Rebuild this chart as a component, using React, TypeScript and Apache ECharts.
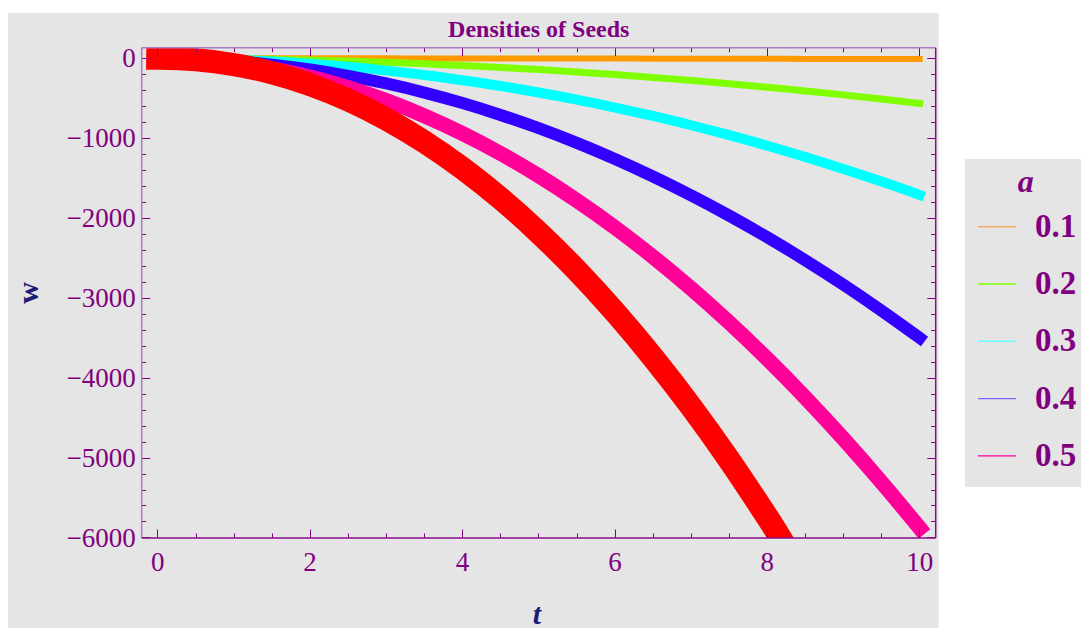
import React, { useEffect, useRef } from 'react';
import * as echarts from 'echarts';

// ---------- data ----------
const tValues = [0, 0.5, 1, 1.5, 2, 2.5, 3, 3.5, 4, 4.5, 5, 5.5, 6, 6.5, 7, 7.5, 8, 8.5, 9, 9.5, 10];
const w01 = [0, 0, -0.1, -0.2, -0.4, -0.6, -0.9, -1.2, -1.6, -2, -2.5, -3, -3.6, -4.2, -4.9, -5.6, -6.4, -7.2, -8.1, -9, -10];
const w02 = [0, -1.4, -5.7, -12.7, -22.6, -35.3, -50.9, -69.2, -90.4, -114, -141, -171, -203, -239, -277, -318, -362, -408, -458, -510, -565];
const w03 = [0, -4.3, -17.1, -38.5, -68.4, -107, -154, -209, -274, -346, -428, -517, -616, -722, -838, -962, -1094, -1235, -1385, -1543, -1710];
const w04 = [0, -8.8, -35, -79, -140, -219, -315, -429, -560, -709, -875, -1059, -1260, -1479, -1715, -1969, -2240, -2529, -2835, -3159, -3500];
const w05 = [0, -14.7, -58.8, -132, -235, -368, -529, -720, -941, -1191, -1470, -1779, -2117, -2484, -2881, -3308, -3763, -4248, -4763, -5307, -5880];
const tRed = [0, 0.5, 1, 1.5, 2, 2.5, 3, 3.5, 4, 4.5, 5, 5.5, 6, 6.5, 7, 7.5, 8, 8.17];
const wRed = [0, -19, -79, -183, -330, -523, -761, -1046, -1377, -1755, -2181, -2654, -3175, -3744, -4361, -5027, -5743, -6000];

const legendLabels = ['0.1', '0.2', '0.3', '0.4', '0.5'];
const legendTitle = 'a';
const chartTitle = 'Densities of Seeds';
const xName = 't';
const yName = 'w';
const xTickValues = [0, 2, 4, 6, 8, 10];
const yTickValues = [-6000, -5000, -4000, -3000, -2000, -1000, 0];
const xMinorPerMajor = 4;
const yMinorPerMajor = 5;

// ---------- styles / layout ----------
const FONT = '"Liberation Serif", "Times New Roman", serif';
const PURPLE = '#800080';
const NAVY = '#1b1b78';
const BG = '#e5e5e5';

const lineColors = ['#ff9900', '#80ff00', '#00ffff', '#3300ff', '#ff0099', '#ff0000'];
const legendLineColors = ['#f3b062', '#80ff00', '#66ffff', '#7766ff', '#ff0099'];
const lineWidths = [6, 7, 10, 12, 15, 23];

// pixel positions of t = 0, t = 10, w = 0, w = -6000
const X0 = 157.7;
const X1 = 919.7;
const Y0 = 58.3;
const Y1 = 537.7;
// frame
const FL = 141.7;
const FR = 935.7;
const FT = 47.7;
const FB = 538;

function minorValues(majors: number[], n: number) {
  const out: number[] = [];
  for (let i = 0; i < majors.length - 1; i++) {
    const a = majors[i];
    const b = majors[i + 1];
    for (let k = 1; k < n; k++) out.push(+(a + ((b - a) * k) / n).toFixed(6));
  }
  return out;
}

function buildOption() {
  const tA = xTickValues[0];
  const tB = xTickValues[xTickValues.length - 1];
  const wA = yTickValues[0];
  const wB = yTickValues[yTickValues.length - 1];
  const pxPerT = (X1 - X0) / (tB - tA);
  const pxPerW = (Y1 - Y0) / (wB - wA);
  const tAt = (px: number) => tA + (px - X0) / pxPerT;
  const wAt = (py: number) => wB - (py - Y0) / pxPerW;

  const xMinor = minorValues(xTickValues, xMinorPerMajor);
  const yMinor = minorValues(yTickValues, yMinorPerMajor);

  const seriesDefs = [
    { name: legendLabels[0], t: tValues, w: w01 },
    { name: legendLabels[1], t: tValues, w: w02 },
    { name: legendLabels[2], t: tValues, w: w03 },
    { name: legendLabels[3], t: tValues, w: w04 },
    { name: legendLabels[4], t: tValues, w: w05 },
    { name: 'extra', t: tRed, w: wRed },
  ];

  const tickStyle = { color: PURPLE, width: 1 };
  const labelFmt = (v: number) => (v < 0 ? '\u2212' + Math.abs(v) : String(v));

  const frameGrid = { left: FL, top: FT, width: FR - FL, height: FB - FT, show: false, containLabel: false, outerBoundsMode: 'none' };
  const grids: any[] = [{ ...frameGrid }, { ...frameGrid }];

  const mkX = (gridIndex: number, position: string, values: number[], len: number, labels: boolean) => ({
    type: 'value', gridIndex, position, min: tAt(FL), max: tAt(FR), z: 10,
    axisLine: { show: false, onZero: false },
    axisTick: { show: true, inside: true, length: len, lineStyle: tickStyle, customValues: values },
    minorTick: { show: false },
    axisLabel: labels
      ? { show: true, margin: 10, color: PURPLE, fontFamily: FONT, fontSize: 27, formatter: labelFmt, customValues: values, hideOverlap: false }
      : { show: false },
    splitLine: { show: false }, minorSplitLine: { show: false },
  });
  const mkY = (gridIndex: number, position: string, values: number[], len: number, labels: boolean) => ({
    type: 'value', gridIndex, position, min: wAt(FB), max: wAt(FT), z: 10,
    axisLine: { show: false, onZero: false },
    axisTick: { show: true, inside: true, length: len, lineStyle: tickStyle, customValues: values },
    minorTick: { show: false },
    axisLabel: labels
      ? { show: true, margin: 6, color: PURPLE, fontFamily: FONT, fontSize: 27, formatter: labelFmt, customValues: values, hideOverlap: false }
      : { show: false },
    splitLine: { show: false }, minorSplitLine: { show: false },
  });

  const xAxes: any[] = [
    mkX(0, 'bottom', xTickValues, 8.5, true),
    mkX(0, 'top', xTickValues, 8.5, false),
    mkX(1, 'bottom', xMinor, 4.5, false),
    mkX(1, 'top', xMinor, 4.5, false),
  ];
  const yAxes: any[] = [
    mkY(0, 'left', yTickValues, 8.5, true),
    mkY(0, 'right', yTickValues, 8.5, false),
    mkY(1, 'left', yMinor, 4.5, false),
    mkY(1, 'right', yMinor, 4.5, false),
  ];
  const series: any[] = [];

  seriesDefs.forEach((d, i) => {
    const lw = lineWidths[i];
    const s = lw / 2; // ECharts expands a line's clip rect by lineWidth/2 -> shrink this grid so the clip equals the frame
    const left = FL + s;
    const right = FR - s;
    const top = FT + s;
    const bottom = FB - s;
    grids.push({ left, top, width: right - left, height: bottom - top, show: false, containLabel: false, outerBoundsMode: 'none' });
    const gi = grids.length - 1;
    xAxes.push({ type: 'value', gridIndex: gi, show: false, min: tAt(left), max: tAt(right), axisLine: { onZero: false }, splitLine: { show: false } });
    yAxes.push({ type: 'value', gridIndex: gi, show: false, min: wAt(bottom), max: wAt(top), axisLine: { onZero: false }, splitLine: { show: false } });
    series.push({
      type: 'line',
      name: d.name,
      xAxisIndex: xAxes.length - 1,
      yAxisIndex: yAxes.length - 1,
      data: d.t.map((t, k) => [t, d.w[k]]),
      showSymbol: false,
      symbol: 'none',
      smooth: 0.4,
      clip: true,
      z: 2,
      lineStyle: { color: lineColors[i], width: lw, cap: 'square', join: 'round' },
      emphasis: { disabled: true },
    });
  });

  const graphic: any[] = [
    { type: 'rect', z: -10, silent: true, shape: { x: 8, y: 12.7, width: 930.7, height: 628 - 12.7 }, style: { fill: BG } },
    { type: 'rect', z: -10, silent: true, shape: { x: 965, y: 159, width: 116, height: 328 }, style: { fill: BG } },
    { type: 'line', z: 100, silent: true, shape: { x1: FL, y1: FT, x2: FL, y2: FB }, style: { stroke: '#b07abf', lineWidth: 1.6 } },
    { type: 'line', z: 100, silent: true, shape: { x1: FL, y1: FT, x2: FR, y2: FT }, style: { stroke: '#b07abf', lineWidth: 1.6 } },
    { type: 'line', z: 100, silent: true, shape: { x1: FL, y1: FB, x2: FR, y2: FB }, style: { stroke: '#880c88', lineWidth: 1.5 } },
    { type: 'line', z: 100, silent: true, shape: { x1: FR, y1: FT, x2: FR, y2: FB }, style: { stroke: '#880c88', lineWidth: 1.5 } },
    {
      type: 'text', z: 100, silent: true, x: (FL + FR) / 2, y: 28.7,
      style: { text: chartTitle, fill: PURPLE, fontFamily: FONT, fontSize: 24, fontWeight: 'bold', align: 'center', verticalAlign: 'middle', textAlign: 'center', textVerticalAlign: 'middle' },
    },
    {
      type: 'text', z: 100, silent: true, x: 27.5, y: 293, rotation: Math.PI / 2,
      style: { text: yName, fill: NAVY, fontFamily: FONT, fontSize: 30, fontWeight: 'bold', align: 'center', verticalAlign: 'middle', textAlign: 'center', textVerticalAlign: 'middle' },
    },
    {
      type: 'text', z: 100, silent: true, x: 537, y: 613,
      style: { text: xName, fill: NAVY, fontFamily: FONT, fontSize: 30, fontWeight: 'bold', fontStyle: 'italic', align: 'center', verticalAlign: 'middle', textAlign: 'center', textVerticalAlign: 'middle' },
    },
    {
      type: 'text', z: 100, silent: true, x: 1025.7, y: 180.5,
      style: { text: legendTitle, fill: PURPLE, fontFamily: FONT, fontSize: 32, fontWeight: 'bold', fontStyle: 'italic', align: 'center', verticalAlign: 'middle', textAlign: 'center', textVerticalAlign: 'middle' },
    },
  ];

  legendLabels.forEach((lab, i) => {
    const y = 226.7 + i * 57.3;
    graphic.push({
      type: 'line', z: 100, silent: true, shape: { x1: 978, y1: y, x2: 1016, y2: y },
      style: { stroke: legendLineColors[i], lineWidth: 1.4 },
    });
    graphic.push({
      type: 'text', z: 100, silent: true, x: 1035, y: y - 1,
      style: { text: lab, fill: PURPLE, fontFamily: FONT, fontSize: 33, fontWeight: 'bold', align: 'left', verticalAlign: 'middle', textAlign: 'left', textVerticalAlign: 'middle' },
    });
  });

  return {
    animation: false,
    backgroundColor: '#ffffff',
    grid: grids,
    xAxis: xAxes,
    yAxis: yAxes,
    series,
    graphic,
    tooltip: { show: false },
  };
}

export default function App() {
  const ref = useRef<HTMLDivElement>(null);
  useEffect(() => {
    if (!ref.current) return;
    const chart = echarts.init(ref.current, null, { renderer: 'svg' });
    chart.setOption(buildOption() as any);
    return () => {
      chart.dispose();
    };
  }, []);
  return <div ref={ref} style={{ position: 'absolute', left: 0, top: 0, width: 1081, height: 628 }} />;
}
